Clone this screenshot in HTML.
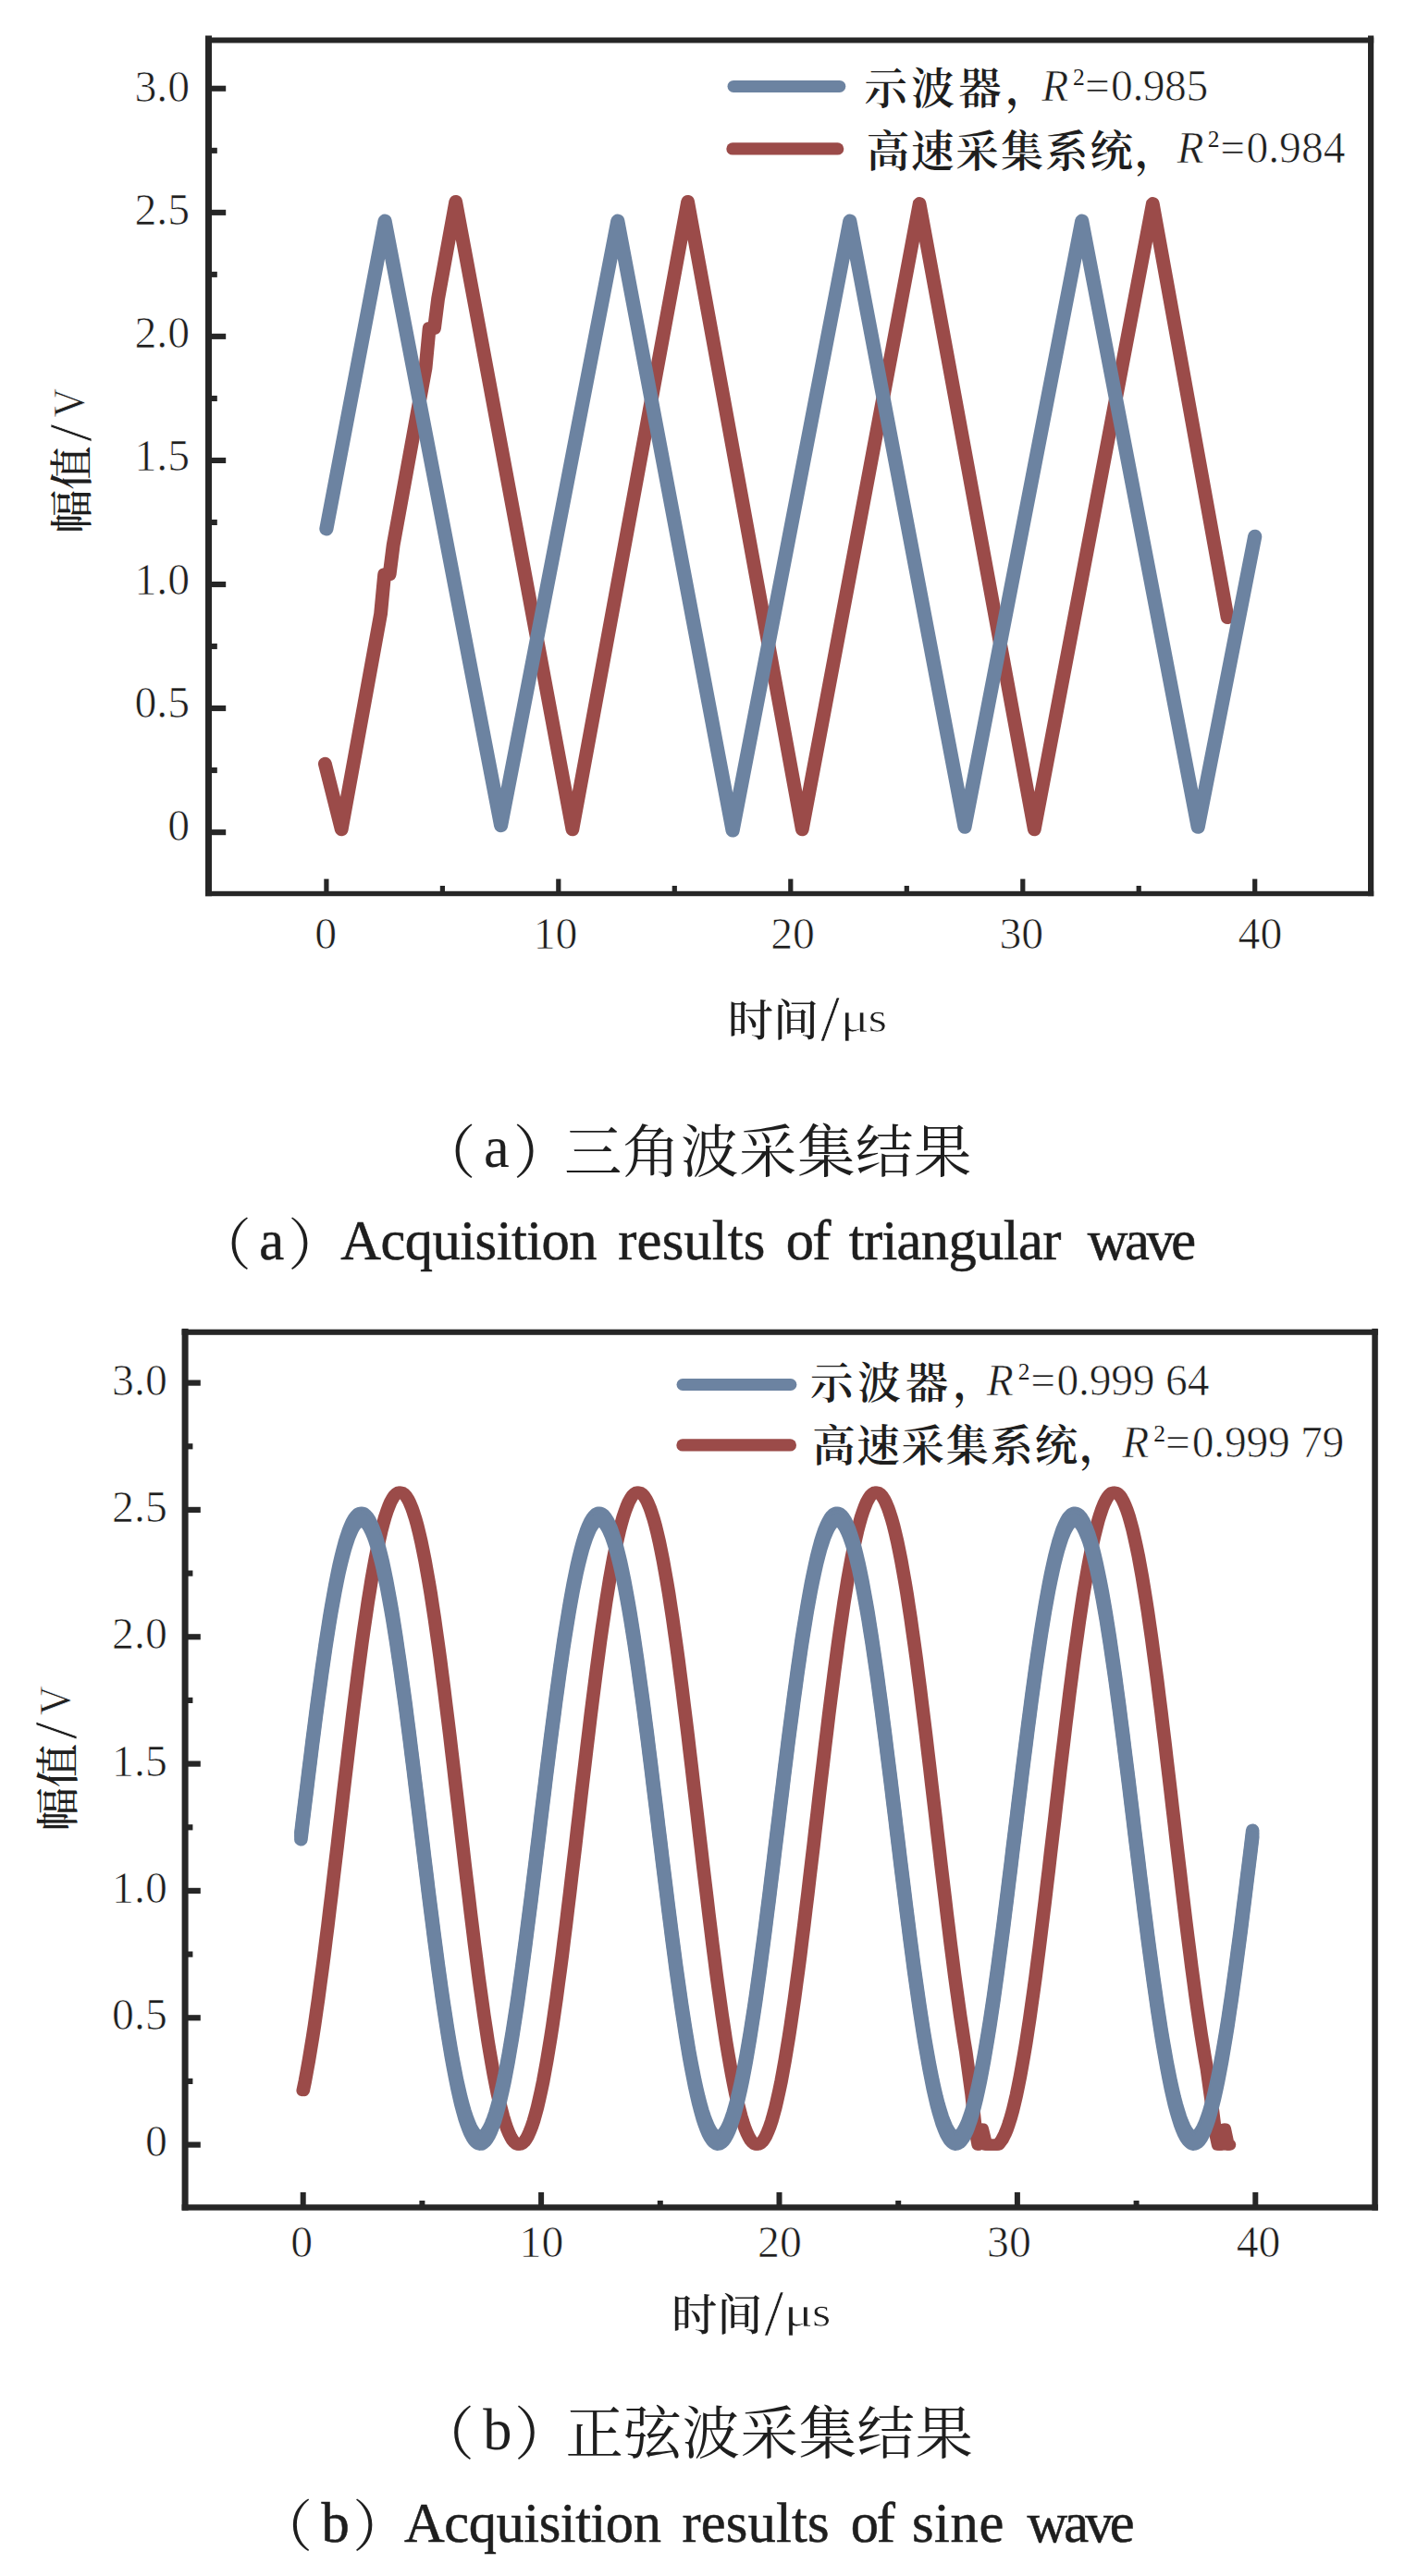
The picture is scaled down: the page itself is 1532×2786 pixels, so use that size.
<!DOCTYPE html>
<html lang="zh-CN">
<head>
<meta charset="utf-8">
<title>三角波与正弦波采集结果</title>
<style>
html,body{margin:0;padding:0;background:#fff;}
body{position:relative;width:1532px;height:2786px;overflow:hidden;}
figure{position:absolute;left:0;margin:0;padding:0;width:1532px;}
figure svg{display:block;}
svg text{font-family:"Liberation Serif","Noto Serif CJK SC",serif;fill:#1e1e1e;white-space:pre;}
svg .cjk{font-family:"Noto Serif CJK SC","Liberation Serif",serif;}
svg .thin text,svg .thin1{stroke:#fff;stroke-width:0.7px;}
svg .thin2{stroke:#fff;stroke-width:1.3px;}
svg .bold{stroke:#1e1e1e;stroke-width:0.55px;}
</style>
</head>
<body>
<figure style="top:0;height:1410px;">
<svg width="1532" height="1410" viewBox="0 0 1532 1410">
<g fill="#262626">
<rect x="222" y="38.5" width="7" height="930.7"/>
<rect x="1479" y="38.5" width="6.2" height="930.7"/>
<rect x="222" y="40.5" width="1263.2" height="6"/>
<rect x="222" y="963.8" width="1263.2" height="5.4"/>
<rect x="228" y="897.1" width="16.2" height="6.1"/>
<rect x="228" y="830" width="6.8" height="6.1"/>
<rect x="228" y="763" width="16.2" height="6.1"/>
<rect x="228" y="696" width="6.8" height="6.1"/>
<rect x="228" y="629" width="16.2" height="6.1"/>
<rect x="228" y="561.9" width="6.8" height="6.1"/>
<rect x="228" y="494.9" width="16.2" height="6.1"/>
<rect x="228" y="427.9" width="6.8" height="6.1"/>
<rect x="228" y="360.8" width="16.2" height="6.1"/>
<rect x="228" y="293.8" width="6.8" height="6.1"/>
<rect x="228" y="226.8" width="16.2" height="6.1"/>
<rect x="228" y="159.8" width="6.8" height="6.1"/>
<rect x="228" y="92.7" width="16.2" height="6.1"/>
<rect x="350.3" y="950.6" width="5.2" height="14.2"/>
<rect x="475.8" y="958" width="5.2" height="6.8"/>
<rect x="601.2" y="950.6" width="5.2" height="14.2"/>
<rect x="726.7" y="958" width="5.2" height="6.8"/>
<rect x="852.2" y="950.6" width="5.2" height="14.2"/>
<rect x="977.7" y="958" width="5.2" height="6.8"/>
<rect x="1103.2" y="950.6" width="5.2" height="14.2"/>
<rect x="1228.6" y="958" width="5.2" height="6.8"/>
<rect x="1354.1" y="950.6" width="5.2" height="14.2"/>
</g>
<g fill="none" stroke-linejoin="round" stroke-linecap="round">
<path d="M351.4 826.1L369.2 896.9L411.6 663.8L415.6 621.6L421.2 620.8L425.2 589.3L460.1 397.6L464.1 355.4L469.6 354.6L473.6 323.1L492.7 218.3L618.9 896.9L743.6 218.3L867.3 896.9L994.1 220.5L1118.3 896.9L1246.3 220.5L1327.1 667.7" stroke="#9b4b49" stroke-width="14.8"/>
<path d="M352.9 571.9L416.1 239.2L541.6 892.6L667.8 239.2L792.1 898L918.8 239.2L1043 894.2L1169.7 239.2L1295.2 894.2L1356.7 580.3" stroke="#6c83a1" stroke-width="15.2"/>
<path d="M793 93.4H907.8" stroke="#6c83a1" stroke-width="13"/>
<path d="M792 160.9H905.6" stroke="#9b4b49" stroke-width="13.4"/>
</g>
<g class="thin" font-size="47.8" text-anchor="end">
<text x="205.2" y="908.7">0</text>
<text x="205.2" y="775.6">0.5</text>
<text x="205.2" y="642.5">1.0</text>
<text x="205.2" y="509.4">1.5</text>
<text x="205.2" y="376.3">2.0</text>
<text x="205.2" y="243.2">2.5</text>
<text x="205.2" y="110.1">3.0</text>
</g>
<g class="thin" font-size="47.8" text-anchor="middle">
<text x="352.1" y="1026.1">0</text>
<text x="600.6" y="1026.1">10</text>
<text x="857.1" y="1026.1">20</text>
<text x="1104.3" y="1026.1">30</text>
<text x="1362.4" y="1026.1">40</text>
</g>
<text><tspan class="cjk" font-size="46.5" font-weight="600" letter-spacing="4.4" x="934.4" y="112.35">示波器，</tspan><tspan class="thin1" font-size="47.6" font-style="italic" x="1126.3" y="108.7">R</tspan><tspan font-size="25.5" x="1160.1" y="91.9">2</tspan><tspan class="thin1" font-size="47.6" x="1172.9" y="108.7">=</tspan><tspan class="thin1" font-size="47.6" letter-spacing="-0.5" x="1201.1" y="108.7">0.985</tspan></text>
<text><tspan class="cjk" font-size="46.5" font-weight="600" letter-spacing="1.84" x="936.7" y="179.65">高速采集系统，</tspan><tspan class="thin1" font-size="47.6" font-style="italic" x="1272.5" y="176.2">R</tspan><tspan font-size="25.5" x="1305.7" y="159.4">2</tspan><tspan class="thin1" font-size="47.6" x="1319.2" y="176.2">=</tspan><tspan class="thin1" font-size="47.6" x="1347.4" y="176.2">0.984</tspan></text>
<text class="cjk" font-size="47" font-weight="500" transform="translate(94.3 577.02) rotate(-90) scale(1.007 1)">幅值</text>
<text class="thin1" font-size="66" transform="translate(97.8 477.4) rotate(-90) scale(1.022 1)">/</text>
<text class="thin1" font-size="49" transform="translate(91.3 451.49) rotate(-90) scale(0.894 1)">V</text>
<text class="cjk" font-size="47" font-weight="500" transform="translate(786.81 1120.2) scale(1.048 1)">时间</text>
<text class="thin1" font-size="70" transform="translate(887.3 1125.2) scale(1.063 1)">/</text>
<text class="thin1" font-size="47" transform="translate(908.79 1116.3) scale(1.226 1)">μ</text>
<text class="thin1" font-size="47" transform="translate(938.69 1116.3) scale(1.107 1)">s</text>
<text><tspan font-size="62.4" x="452.1" y="1268.75">（</tspan><tspan font-size="62.4" x="522.9" y="1262.3">a</tspan><tspan font-size="62.4" x="554.8" y="1268.75">）</tspan><tspan font-size="62.4" letter-spacing="0.63" x="610" y="1267.7">三角波采集结果</tspan></text>
<text><tspan font-size="60.5" x="211.2" y="1367.95">（</tspan><tspan class="bold" font-size="60.5" x="280.3" y="1361.9">a</tspan><tspan font-size="60.5" x="311.2" y="1367.95">）</tspan><tspan class="bold" font-size="60.5" letter-spacing="-0.49" x="368.2" y="1361.9">Acquisition </tspan><tspan class="bold" font-size="60.5" letter-spacing="0.17" x="668.3" y="1361.9">results </tspan><tspan class="bold" font-size="60.5" letter-spacing="-1.8" x="849.7" y="1361.9">of </tspan><tspan class="bold" font-size="60.5" letter-spacing="-0.62" x="917.7" y="1361.9">triangular </tspan><tspan class="bold" font-size="60.5" letter-spacing="-3.43" x="1175.8" y="1361.9">wave</tspan></text>
</svg>
</figure>
<figure style="top:1410px;height:1376px;">
<svg width="1532" height="1376" viewBox="0 1410 1532 1376">
<g fill="#262626">
<rect x="196.6" y="1436.9" width="7" height="953.7"/>
<rect x="1483.3" y="1436.9" width="6.5" height="953.7"/>
<rect x="196.6" y="1437.7" width="1293.2" height="6.1"/>
<rect x="196.6" y="2384.2" width="1293.2" height="6.4"/>
<rect x="202.6" y="2316.5" width="14.2" height="6.2"/>
<rect x="202.6" y="2247.8" width="5.8" height="6.2"/>
<rect x="202.6" y="2179.2" width="14.2" height="6.2"/>
<rect x="202.6" y="2110.5" width="5.8" height="6.2"/>
<rect x="202.6" y="2041.8" width="14.2" height="6.2"/>
<rect x="202.6" y="1973.2" width="5.8" height="6.2"/>
<rect x="202.6" y="1904.5" width="14.2" height="6.2"/>
<rect x="202.6" y="1835.8" width="5.8" height="6.2"/>
<rect x="202.6" y="1767.2" width="14.2" height="6.2"/>
<rect x="202.6" y="1698.5" width="5.8" height="6.2"/>
<rect x="202.6" y="1629.8" width="14.2" height="6.2"/>
<rect x="202.6" y="1561.2" width="5.8" height="6.2"/>
<rect x="202.6" y="1492.5" width="14.2" height="6.2"/>
<rect x="324.7" y="2371" width="6" height="14.2"/>
<rect x="453.4" y="2380" width="6" height="5.2"/>
<rect x="582.1" y="2371" width="6" height="14.2"/>
<rect x="710.8" y="2380" width="6" height="5.2"/>
<rect x="839.5" y="2371" width="6" height="14.2"/>
<rect x="968.2" y="2380" width="6" height="5.2"/>
<rect x="1096.9" y="2371" width="6" height="14.2"/>
<rect x="1225.6" y="2380" width="6" height="5.2"/>
<rect x="1354.3" y="2371" width="6" height="14.2"/>
</g>
<g fill="none" stroke-linejoin="round" stroke-linecap="round">
<path d="M326.6 2261L328.7 2250.9L330.7 2240L332.8 2228.4L334.8 2216.2L336.9 2203.4L339 2189.9L341 2175.9L343.1 2161.4L345.1 2146.3L347.2 2130.8L349.3 2114.9L351.3 2098.6L353.4 2082L355.4 2065.1L357.5 2048L359.5 2030.6L361.6 2013.1L363.7 1995.4L365.7 1977.7L367.8 1960L369.8 1942.3L371.9 1924.6L374 1907.1L376 1889.7L378.1 1872.4L380.1 1855.5L382.2 1838.8L384.3 1822.4L386.3 1806.4L388.4 1790.8L390.4 1775.7L392.5 1761L394.6 1746.8L396.6 1733.2L398.7 1720.2L400.7 1707.8L402.8 1696.1L404.8 1685.1L406.9 1674.7L409 1665.1L411 1656.3L413.1 1648.2L415.1 1641L417.2 1634.6L419.3 1629L421.3 1624.2L423.4 1620.4L425.4 1617.4L427.5 1615.3L429.6 1614L431.6 1613.7L433.7 1614.3L435.7 1615.7L437.8 1618L439.9 1621.3L441.9 1625.3L444 1630.3L446 1636.1L448.1 1642.7L450.2 1650.2L452.2 1658.4L454.3 1667.5L456.3 1677.2L458.4 1687.8L460.4 1699L462.5 1710.9L464.6 1723.4L466.6 1736.6L468.7 1750.3L470.7 1764.6L472.8 1779.4L474.9 1794.7L476.9 1810.4L479 1826.5L481 1842.9L483.1 1859.7L485.2 1876.7L487.2 1894L489.3 1911.4L491.3 1929L493.4 1946.7L495.5 1964.4L497.5 1982.2L499.6 1999.9L501.6 2017.5L503.7 2035L505.8 2052.3L507.8 2069.4L509.9 2086.2L511.9 2102.7L514 2118.9L516 2134.7L518.1 2150.1L520.2 2165L522.2 2179.5L524.3 2193.3L526.3 2206.6L528.4 2219.3L530.5 2231.4L532.5 2242.8L534.6 2253.5L536.6 2263.5L538.7 2272.7L540.8 2281.1L542.8 2288.8L544.9 2295.6L546.9 2301.6L549 2306.8L551.1 2311.1L553.1 2314.5L555.2 2317.1L557.2 2318.8L559.3 2319.5L561.3 2319.4L563.4 2318.4L565.5 2316.5L567.5 2313.8L569.6 2310.1L571.6 2305.6L573.7 2300.2L575.8 2294L577.8 2286.9L579.9 2279.1L581.9 2270.4L584 2261L586.1 2250.9L588.1 2240L590.2 2228.4L592.2 2216.2L594.3 2203.4L596.4 2189.9L598.4 2175.9L600.5 2161.4L602.5 2146.3L604.6 2130.8L606.7 2114.9L608.7 2098.6L610.8 2082L612.8 2065.1L614.9 2048L616.9 2030.6L619 2013.1L621.1 1995.4L623.1 1977.7L625.2 1960L627.2 1942.3L629.3 1924.6L631.4 1907.1L633.4 1889.7L635.5 1872.4L637.5 1855.5L639.6 1838.8L641.7 1822.4L643.7 1806.4L645.8 1790.8L647.8 1775.7L649.9 1761L652 1746.8L654 1733.2L656.1 1720.2L658.1 1707.8L660.2 1696.1L662.2 1685.1L664.3 1674.7L666.4 1665.1L668.4 1656.3L670.5 1648.2L672.5 1641L674.6 1634.6L676.7 1629L678.7 1624.2L680.8 1620.4L682.8 1617.4L684.9 1615.3L687 1614L689 1613.7L691.1 1614.3L693.1 1615.7L695.2 1618L697.3 1621.3L699.3 1625.3L701.4 1630.3L703.4 1636.1L705.5 1642.7L707.6 1650.2L709.6 1658.4L711.7 1667.5L713.7 1677.2L715.8 1687.8L717.8 1699L719.9 1710.9L722 1723.4L724 1736.6L726.1 1750.3L728.1 1764.6L730.2 1779.4L732.3 1794.7L734.3 1810.4L736.4 1826.5L738.4 1842.9L740.5 1859.7L742.6 1876.7L744.6 1894L746.7 1911.4L748.7 1929L750.8 1946.7L752.9 1964.4L754.9 1982.2L757 1999.9L759 2017.5L761.1 2035L763.2 2052.3L765.2 2069.4L767.3 2086.2L769.3 2102.7L771.4 2118.9L773.4 2134.7L775.5 2150.1L777.6 2165L779.6 2179.5L781.7 2193.3L783.7 2206.6L785.8 2219.3L787.9 2231.4L789.9 2242.8L792 2253.5L794 2263.5L796.1 2272.7L798.2 2281.1L800.2 2288.8L802.3 2295.6L804.3 2301.6L806.4 2306.8L808.5 2311.1L810.5 2314.5L812.6 2317.1L814.6 2318.8L816.7 2319.5L818.7 2319.4L820.8 2318.4L822.9 2316.5L824.9 2313.8L827 2310.1L829 2305.6L831.1 2300.2L833.2 2294L835.2 2286.9L837.3 2279.1L839.3 2270.4L841.4 2261L843.5 2250.9L845.5 2240L847.6 2228.4L849.6 2216.2L851.7 2203.4L853.8 2189.9L855.8 2175.9L857.9 2161.4L859.9 2146.3L862 2130.8L864.1 2114.9L866.1 2098.6L868.2 2082L870.2 2065.1L872.3 2048L874.3 2030.6L876.4 2013.1L878.5 1995.4L880.5 1977.7L882.6 1960L884.6 1942.3L886.7 1924.6L888.8 1907.1L890.8 1889.7L892.9 1872.4L894.9 1855.5L897 1838.8L899.1 1822.4L901.1 1806.4L903.2 1790.8L905.2 1775.7L907.3 1761L909.4 1746.8L911.4 1733.2L913.5 1720.2L915.5 1707.8L917.6 1696.1L919.6 1685.1L921.7 1674.7L923.8 1665.1L925.8 1656.3L927.9 1648.2L929.9 1641L932 1634.6L934.1 1629L936.1 1624.2L938.2 1620.4L940.2 1617.4L942.3 1615.3L944.4 1614L946.4 1613.7L948.5 1614.3L950.5 1615.7L952.6 1618L954.7 1621.3L956.7 1625.3L958.8 1630.3L960.8 1636.1L962.9 1642.7L965 1650.2L967 1658.4L969.1 1667.5L971.1 1677.2L973.2 1687.8L975.2 1699L977.3 1710.9L979.4 1723.4L981.4 1736.6L983.5 1750.3L985.5 1764.6L987.6 1779.4L989.7 1794.7L991.7 1810.4L993.8 1826.5L995.8 1842.9L997.9 1859.7L1000 1876.7L1002 1894L1004.1 1911.4L1006.1 1929L1008.2 1946.7L1010.3 1964.4L1012.3 1982.2L1014.4 1999.9L1016.4 2017.5L1018.5 2035L1020.6 2052.3L1022.6 2069.4L1024.7 2086.2L1026.7 2102.7L1028.8 2118.9L1030.8 2134.7L1032.9 2150.1L1035 2165L1037 2179.5L1039.1 2193.3L1041.1 2206.6L1043.2 2219.3L1049.4 2264.7L1053.5 2303.1L1056.6 2319.6L1060.7 2302.6L1064.8 2319.6L1078.2 2319.6L1082.3 2314.1L1085.4 2308L1087.5 2303L1089.5 2297.2L1091.6 2290.6L1093.7 2283.1L1095.7 2274.9L1097.8 2265.8L1099.8 2256.1L1101.9 2245.5L1103.9 2234.3L1106 2222.4L1108.1 2209.9L1110.1 2196.7L1112.2 2183L1114.2 2168.7L1116.3 2153.9L1118.4 2138.6L1120.4 2122.9L1122.5 2106.8L1124.5 2090.4L1126.6 2073.6L1128.7 2056.6L1130.7 2039.3L1132.8 2021.9L1134.8 2004.3L1136.9 1986.6L1139 1968.9L1141 1951.1L1143.1 1933.4L1145.1 1915.8L1147.2 1898.3L1149.3 1881L1151.3 1863.9L1153.4 1847.1L1155.4 1830.6L1157.5 1814.4L1159.5 1798.6L1161.6 1783.2L1163.7 1768.3L1165.7 1753.8L1167.8 1740L1169.8 1726.7L1171.9 1714L1174 1701.9L1176 1690.5L1178.1 1679.8L1180.1 1669.8L1182.2 1660.6L1184.3 1652.2L1186.3 1644.5L1188.4 1637.7L1190.4 1631.7L1192.5 1626.5L1194.6 1622.2L1196.6 1618.8L1198.7 1616.2L1200.7 1614.5L1202.8 1613.8L1204.8 1613.9L1206.9 1614.9L1209 1616.8L1211 1619.5L1213.1 1623.2L1215.1 1627.7L1217.2 1633.1L1219.3 1639.3L1221.3 1646.4L1223.4 1654.2L1225.4 1662.8L1227.5 1672.3L1229.6 1682.4L1231.6 1693.3L1233.7 1704.9L1235.7 1717.1L1237.8 1729.9L1239.9 1743.4L1241.9 1757.4L1244 1771.9L1246 1787L1248.1 1802.5L1250.2 1818.4L1252.2 1834.7L1254.3 1851.3L1256.3 1868.2L1258.4 1885.3L1260.4 1902.7L1262.5 1920.2L1264.6 1937.9L1266.6 1955.6L1268.7 1973.3L1270.7 1991L1272.8 2008.7L1274.9 2026.2L1276.9 2043.6L1279 2060.9L1281 2077.8L1283.1 2094.5L1285.2 2110.9L1287.2 2126.9L1289.3 2142.5L1291.3 2157.6L1293.4 2172.3L1295.5 2186.5L1297.5 2200.1L1299.6 2213.1L1301.6 2225.5L1303.7 2237.2L1308.3 2270.2L1312.4 2303.1L1316 2319.6L1319.1 2319.6L1322.7 2302.6L1326.3 2319.6L1327.9 2319.6" stroke="#9b4b49" stroke-width="12.4"/>
<path d="M328.8 2261L330.9 2250.9L332.9 2240L335 2228.4L337 2216.2L339.1 2203.4L341.2 2189.9L343.2 2175.9L345.3 2161.4L347.3 2146.3L349.4 2130.8L351.5 2114.9L353.5 2098.6L355.6 2082L357.6 2065.1L359.7 2048L361.7 2030.6L363.8 2013.1L365.9 1995.4L367.9 1977.7L370 1960L372 1942.3L374.1 1924.6L376.2 1907.1L378.2 1889.7L380.3 1872.4L382.3 1855.5L384.4 1838.8L386.5 1822.4L388.5 1806.4L390.6 1790.8L392.6 1775.7L394.7 1761L396.8 1746.8L398.8 1733.2L400.9 1720.2L402.9 1707.8L405 1696.1L407 1685.1L409.1 1674.7L411.2 1665.1L413.2 1656.3L415.3 1648.2L417.3 1641L419.4 1634.6L421.5 1629L423.5 1624.2L425.6 1620.4L427.6 1617.4L429.7 1615.3L431.8 1614L433.8 1613.7L435.9 1614.3L437.9 1615.7L440 1618L442.1 1621.3L444.1 1625.3L446.2 1630.3L448.2 1636.1L450.3 1642.7L452.4 1650.2L454.4 1658.4L456.5 1667.5L458.5 1677.2L460.6 1687.8L462.6 1699L464.7 1710.9L466.8 1723.4L468.8 1736.6L470.9 1750.3L472.9 1764.6L475 1779.4L477.1 1794.7L479.1 1810.4L481.2 1826.5L483.2 1842.9L485.3 1859.7L487.4 1876.7L489.4 1894L491.5 1911.4L493.5 1929L495.6 1946.7L497.7 1964.4L499.7 1982.2L501.8 1999.9L503.8 2017.5L505.9 2035L508 2052.3L510 2069.4L512.1 2086.2L514.1 2102.7L516.2 2118.9L518.2 2134.7L520.3 2150.1L522.4 2165L524.4 2179.5L526.5 2193.3L528.5 2206.6L530.6 2219.3L532.7 2231.4L534.7 2242.8L536.8 2253.5L538.8 2263.5L540.9 2272.7L543 2281.1L545 2288.8L547.1 2295.6L549.1 2301.6L551.2 2306.8L553.3 2311.1L555.3 2314.5L557.4 2317.1L559.4 2318.8L561.5 2319.5L563.5 2319.4L565.6 2318.4L567.7 2316.5L569.7 2313.8L571.8 2310.1L573.8 2305.6L575.9 2300.2L578 2294L580 2286.9L582.1 2279.1L584.1 2270.4L586.2 2261L588.3 2250.9L590.3 2240L592.4 2228.4L594.4 2216.2L596.5 2203.4L598.6 2189.9L600.6 2175.9L602.7 2161.4L604.7 2146.3L606.8 2130.8L608.9 2114.9L610.9 2098.6L613 2082L615 2065.1L617.1 2048L619.1 2030.6L621.2 2013.1L623.3 1995.4L625.3 1977.7L627.4 1960L629.4 1942.3L631.5 1924.6L633.6 1907.1L635.6 1889.7L637.7 1872.4L639.7 1855.5L641.8 1838.8L643.9 1822.4L645.9 1806.4L648 1790.8L650 1775.7L652.1 1761L654.2 1746.8L656.2 1733.2L658.3 1720.2L660.3 1707.8L662.4 1696.1L664.4 1685.1L666.5 1674.7L668.6 1665.1L670.6 1656.3L672.7 1648.2L674.7 1641L676.8 1634.6L678.9 1629L680.9 1624.2L683 1620.4L685 1617.4L687.1 1615.3L689.2 1614L691.2 1613.7L693.3 1614.3L695.3 1615.7L697.4 1618L699.5 1621.3L701.5 1625.3L703.6 1630.3L705.6 1636.1L707.7 1642.7L709.8 1650.2L711.8 1658.4L713.9 1667.5L715.9 1677.2L718 1687.8L720 1699L722.1 1710.9L724.2 1723.4L726.2 1736.6L728.3 1750.3L730.3 1764.6L732.4 1779.4L734.5 1794.7L736.5 1810.4L738.6 1826.5L740.6 1842.9L742.7 1859.7L744.8 1876.7L746.8 1894L748.9 1911.4L750.9 1929L753 1946.7L755.1 1964.4L757.1 1982.2L759.2 1999.9L761.2 2017.5L763.3 2035L765.4 2052.3L767.4 2069.4L769.5 2086.2L771.5 2102.7L773.6 2118.9L775.6 2134.7L777.7 2150.1L779.8 2165L781.8 2179.5L783.9 2193.3L785.9 2206.6L788 2219.3L790.1 2231.4L792.1 2242.8L794.2 2253.5L796.2 2263.5L798.3 2272.7L800.4 2281.1L802.4 2288.8L804.5 2295.6L806.5 2301.6L808.6 2306.8L810.7 2311.1L812.7 2314.5L814.8 2317.1L816.8 2318.8L818.9 2319.5L820.9 2319.4L823 2318.4L825.1 2316.5L827.1 2313.8L829.2 2310.1L831.2 2305.6L833.3 2300.2L835.4 2294L837.4 2286.9L839.5 2279.1L841.5 2270.4L843.6 2261L845.7 2250.9L847.7 2240L849.8 2228.4L851.8 2216.2L853.9 2203.4L856 2189.9L858 2175.9L860.1 2161.4L862.1 2146.3L864.2 2130.8L866.3 2114.9L868.3 2098.6L870.4 2082L872.4 2065.1L874.5 2048L876.5 2030.6L878.6 2013.1L880.7 1995.4L882.7 1977.7L884.8 1960L886.8 1942.3L888.9 1924.6L891 1907.1L893 1889.7L895.1 1872.4L897.1 1855.5L899.2 1838.8L901.3 1822.4L903.3 1806.4L905.4 1790.8L907.4 1775.7L909.5 1761L911.6 1746.8L913.6 1733.2L915.7 1720.2L917.7 1707.8L919.8 1696.1L921.8 1685.1L923.9 1674.7L926 1665.1L928 1656.3L930.1 1648.2L932.1 1641L934.2 1634.6L936.3 1629L938.3 1624.2L940.4 1620.4L942.4 1617.4L944.5 1615.3L946.6 1614L948.6 1613.7L950.7 1614.3L952.7 1615.7L954.8 1618L956.9 1621.3L958.9 1625.3L961 1630.3L963 1636.1L965.1 1642.7L967.2 1650.2L969.2 1658.4L971.3 1667.5L973.3 1677.2L975.4 1687.8L977.4 1699L979.5 1710.9L981.6 1723.4L983.6 1736.6L985.7 1750.3L987.7 1764.6L989.8 1779.4L991.9 1794.7L993.9 1810.4L996 1826.5L998 1842.9L1000.1 1859.7L1002.2 1876.7L1004.2 1894L1006.3 1911.4L1008.3 1929L1010.4 1946.7L1012.5 1964.4L1014.5 1982.2L1016.6 1999.9L1018.6 2017.5L1020.7 2035L1022.8 2052.3L1024.8 2069.4L1026.9 2086.2L1028.9 2102.7L1031 2118.9L1033 2134.7L1035.1 2150.1L1037.2 2165L1039.2 2179.5L1041.3 2193.3L1043.3 2206.6L1045.4 2219.3L1051.6 2264.7L1055.7 2303.1L1058.8 2319.6L1062.9 2302.6L1067 2319.6L1080.4 2319.6L1084.5 2314.1L1087.6 2308L1089.7 2303L1091.7 2297.2L1093.8 2290.6L1095.9 2283.1L1097.9 2274.9L1100 2265.8L1102 2256.1L1104.1 2245.5L1106.1 2234.3L1108.2 2222.4L1110.3 2209.9L1112.3 2196.7L1114.4 2183L1116.4 2168.7L1118.5 2153.9L1120.6 2138.6L1122.6 2122.9L1124.7 2106.8L1126.7 2090.4L1128.8 2073.6L1130.9 2056.6L1132.9 2039.3L1135 2021.9L1137 2004.3L1139.1 1986.6L1141.2 1968.9L1143.2 1951.1L1145.3 1933.4L1147.3 1915.8L1149.4 1898.3L1151.5 1881L1153.5 1863.9L1155.6 1847.1L1157.6 1830.6L1159.7 1814.4L1161.7 1798.6L1163.8 1783.2L1165.9 1768.3L1167.9 1753.8L1170 1740L1172 1726.7L1174.1 1714L1176.2 1701.9L1178.2 1690.5L1180.3 1679.8L1182.3 1669.8L1184.4 1660.6L1186.5 1652.2L1188.5 1644.5L1190.6 1637.7L1192.6 1631.7L1194.7 1626.5L1196.8 1622.2L1198.8 1618.8L1200.9 1616.2L1202.9 1614.5L1205 1613.8L1207 1613.9L1209.1 1614.9L1211.2 1616.8L1213.2 1619.5L1215.3 1623.2L1217.3 1627.7L1219.4 1633.1L1221.5 1639.3L1223.5 1646.4L1225.6 1654.2L1227.6 1662.8L1229.7 1672.3L1231.8 1682.4L1233.8 1693.3L1235.9 1704.9L1237.9 1717.1L1240 1729.9L1242.1 1743.4L1244.1 1757.4L1246.2 1771.9L1248.2 1787L1250.3 1802.5L1252.4 1818.4L1254.4 1834.7L1256.5 1851.3L1258.5 1868.2L1260.6 1885.3L1262.6 1902.7L1264.7 1920.2L1266.8 1937.9L1268.8 1955.6L1270.9 1973.3L1272.9 1991L1275 2008.7L1277.1 2026.2L1279.1 2043.6L1281.2 2060.9L1283.2 2077.8L1285.3 2094.5L1287.4 2110.9L1289.4 2126.9L1291.5 2142.5L1293.5 2157.6L1295.6 2172.3L1297.7 2186.5L1299.7 2200.1L1301.8 2213.1L1303.8 2225.5L1305.9 2237.2L1310.5 2270.2L1314.6 2303.1L1318.2 2319.6L1321.3 2319.6L1324.9 2302.6L1328.5 2319.6L1330.1 2319.6" stroke="#9b4b49" stroke-width="12.4"/>
<path d="M325.4 1981.9L327.4 1964.9L329.5 1948L331.6 1931.1L333.6 1914.4L335.7 1897.8L337.7 1881.3L339.8 1865.2L341.8 1849.3L343.9 1833.7L346 1818.4L348 1803.6L350.1 1789.2L352.1 1775.2L354.2 1761.8L356.2 1748.9L358.3 1736.5L360.4 1724.8L362.4 1713.7L364.5 1703.2L366.5 1693.4L368.6 1684.4L370.7 1676.1L372.7 1668.5L374.8 1661.7L376.8 1655.7L378.9 1650.5L380.9 1646.1L383 1642.5L385.1 1639.8L387.1 1637.9L389.2 1636.9L391.2 1636.7L393.3 1637.3L395.3 1638.9L397.4 1641.2L399.5 1644.5L401.5 1648.5L403.6 1653.4L405.6 1659L407.7 1665.5L409.7 1672.8L411.8 1680.8L413.9 1689.5L415.9 1699L418 1709.2L420 1720L422.1 1731.5L424.2 1743.6L426.2 1756.2L428.3 1769.5L430.3 1783.2L432.4 1797.4L434.4 1812.1L436.5 1827.2L438.6 1842.6L440.6 1858.4L442.7 1874.5L444.7 1890.8L446.8 1907.3L448.8 1924L450.9 1940.9L453 1957.8L455 1974.7L457.1 1991.7L459.1 2008.6L461.2 2025.4L463.2 2042.1L465.3 2058.6L467.4 2074.9L469.4 2091L471.5 2106.7L473.5 2122.1L475.6 2137.2L477.6 2151.8L479.7 2166L481.8 2179.7L483.8 2192.8L485.9 2205.5L487.9 2217.5L490 2228.9L492.1 2239.7L494.1 2249.8L496.2 2259.2L498.2 2267.9L500.3 2275.8L502.3 2283L504.4 2289.4L506.5 2295L508.5 2299.8L510.6 2303.8L512.6 2306.9L514.7 2309.2L516.7 2310.6L518.8 2311.2L520.9 2311L522.9 2309.8L525 2307.9L527 2305.1L529.1 2301.4L531.1 2297L533.2 2291.7L535.3 2285.6L537.3 2278.7L539.4 2271.1L541.4 2262.7L543.5 2253.5L545.6 2243.7L547.6 2233.2L549.7 2222L551.7 2210.2L553.8 2197.8L555.8 2184.9L557.9 2171.4L560 2157.4L562 2142.9L564.1 2128L566.1 2112.8L568.2 2097.2L570.2 2081.2L572.3 2065L574.4 2048.6L576.4 2031.9L578.5 2015.2L580.5 1998.3L582.6 1981.4L584.6 1964.4L586.7 1947.5L588.8 1930.6L590.8 1913.8L592.9 1897.2L594.9 1880.8L597 1864.7L599.1 1848.8L601.1 1833.2L603.2 1818L605.2 1803.1L607.3 1788.7L609.3 1774.8L611.4 1761.4L613.5 1748.5L615.5 1736.1L617.6 1724.4L619.6 1713.3L621.7 1702.9L623.7 1693.1L625.8 1684.1L627.9 1675.8L629.9 1668.3L632 1661.5L634 1655.5L636.1 1650.3L638.1 1645.9L640.2 1642.4L642.3 1639.7L644.3 1637.8L646.4 1636.8L648.4 1636.7L650.5 1637.4L652.6 1638.9L654.6 1641.3L656.7 1644.6L658.7 1648.6L660.8 1653.5L662.8 1659.2L664.9 1665.7L667 1673L669 1681L671.1 1689.8L673.1 1699.3L675.2 1709.5L677.2 1720.4L679.3 1731.8L681.4 1744L683.4 1756.6L685.5 1769.9L687.5 1783.6L689.6 1797.9L691.6 1812.6L693.7 1827.7L695.8 1843.1L697.8 1858.9L699.9 1875L701.9 1891.3L704 1907.9L706 1924.6L708.1 1941.4L710.2 1958.3L712.2 1975.3L714.3 1992.2L716.3 2009.1L718.4 2025.9L720.5 2042.6L722.5 2059.1L724.6 2075.4L726.6 2091.4L728.7 2107.2L730.7 2122.6L732.8 2137.6L734.9 2152.2L736.9 2166.4L739 2180.1L741 2193.2L743.1 2205.8L745.1 2217.9L747.2 2229.3L749.3 2240L751.3 2250.1L753.4 2259.5L755.4 2268.1L757.5 2276.1L759.5 2283.2L761.6 2289.6L763.7 2295.2L765.7 2299.9L767.8 2303.9L769.8 2307L771.9 2309.2L774 2310.7L776 2311.2L778.1 2310.9L780.1 2309.8L782.2 2307.8L784.2 2305L786.3 2301.3L788.4 2296.8L790.4 2291.5L792.5 2285.4L794.5 2278.5L796.6 2270.8L798.6 2262.4L800.7 2253.3L802.8 2243.4L804.8 2232.9L806.9 2221.7L808.9 2209.9L811 2197.4L813 2184.5L815.1 2171L817.2 2156.9L819.2 2142.5L821.3 2127.6L823.3 2112.3L825.4 2096.7L827.5 2080.7L829.5 2064.5L831.6 2048.1L833.6 2031.4L835.7 2014.6L837.7 1997.8L839.8 1980.8L841.9 1963.9L843.9 1946.9L846 1930.1L848 1913.3L850.1 1896.7L852.1 1880.3L854.2 1864.2L856.3 1848.3L858.3 1832.7L860.4 1817.5L862.4 1802.7L864.5 1788.3L866.5 1774.4L868.6 1760.9L870.7 1748.1L872.7 1735.8L874.8 1724.1L876.8 1713L878.9 1702.6L881 1692.9L883 1683.8L885.1 1675.6L887.1 1668L889.2 1661.3L891.2 1655.3L893.3 1650.2L895.4 1645.8L897.4 1642.3L899.5 1639.6L901.5 1637.8L903.6 1636.8L905.6 1636.7L907.7 1637.4L909.8 1639L911.8 1641.4L913.9 1644.7L915.9 1648.8L918 1653.7L920 1659.4L922.1 1665.9L924.2 1673.2L926.2 1681.3L928.3 1690.1L930.3 1699.6L932.4 1709.8L934.4 1720.7L936.5 1732.2L938.6 1744.3L940.6 1757.1L942.7 1770.3L944.7 1784.1L946.8 1798.3L948.9 1813L950.9 1828.1L953 1843.6L955 1859.4L957.1 1875.5L959.1 1891.8L961.2 1908.4L963.3 1925.1L965.3 1941.9L967.4 1958.8L969.4 1975.8L971.5 1992.7L973.5 2009.6L975.6 2026.4L977.7 2043.1L979.7 2059.6L981.8 2075.9L983.8 2091.9L985.9 2107.7L987.9 2123.1L990 2138.1L992.1 2152.7L994.1 2166.8L996.2 2180.5L998.2 2193.6L1000.3 2206.2L1002.4 2218.2L1004.4 2229.6L1006.5 2240.3L1008.5 2250.4L1010.6 2259.8L1012.6 2268.4L1014.7 2276.3L1016.8 2283.4L1018.8 2289.8L1020.9 2295.3L1022.9 2300.1L1025 2304L1027 2307.1L1029.1 2309.3L1031.2 2310.7L1033.2 2311.2L1035.3 2310.9L1037.3 2309.7L1039.4 2307.7L1041.4 2304.9L1043.5 2301.2L1045.6 2296.7L1047.6 2291.3L1049.7 2285.2L1051.7 2278.3L1053.8 2270.6L1055.9 2262.1L1057.9 2253L1060 2243.1L1062 2232.5L1064.1 2221.3L1066.1 2209.5L1068.2 2197L1070.3 2184L1072.3 2170.5L1074.4 2156.5L1076.4 2142L1078.5 2127.1L1080.5 2111.8L1082.6 2096.2L1084.7 2080.2L1086.7 2064L1088.8 2047.5L1090.8 2030.9L1092.9 2014.1L1094.9 1997.2L1097 1980.3L1099.1 1963.3L1101.1 1946.4L1103.2 1929.6L1105.2 1912.8L1107.3 1896.2L1109.4 1879.8L1111.4 1863.7L1113.5 1847.8L1115.5 1832.2L1117.6 1817L1119.6 1802.2L1121.7 1787.8L1123.8 1773.9L1125.8 1760.5L1127.9 1747.7L1129.9 1735.4L1132 1723.7L1134 1712.7L1136.1 1702.3L1138.2 1692.6L1140.2 1683.6L1142.3 1675.3L1144.3 1667.8L1146.4 1661.1L1148.4 1655.1L1150.5 1650L1152.6 1645.7L1154.6 1642.2L1156.7 1639.6L1158.7 1637.8L1160.8 1636.8L1162.8 1636.7L1164.9 1637.5L1167 1639.1L1169 1641.5L1171.1 1644.8L1173.1 1648.9L1175.2 1653.9L1177.3 1659.6L1179.3 1666.2L1181.4 1673.5L1183.4 1681.6L1185.5 1690.4L1187.5 1699.9L1189.6 1710.2L1191.7 1721.1L1193.7 1732.6L1195.8 1744.7L1197.8 1757.5L1199.9 1770.7L1201.9 1784.5L1204 1798.8L1206.1 1813.5L1208.1 1828.6L1210.2 1844.1L1212.2 1859.9L1214.3 1876L1216.3 1892.3L1218.4 1908.9L1220.5 1925.6L1222.5 1942.4L1224.6 1959.4L1226.6 1976.3L1228.7 1993.3L1230.8 2010.2L1232.8 2027L1234.9 2043.6L1236.9 2060.1L1239 2076.4L1241 2092.4L1243.1 2108.2L1245.2 2123.5L1247.2 2138.5L1249.3 2153.1L1251.3 2167.3L1253.4 2180.9L1255.4 2194L1257.5 2206.6L1259.6 2218.6L1261.6 2229.9L1263.7 2240.7L1265.7 2250.7L1267.8 2260L1269.8 2268.7L1271.9 2276.5L1274 2283.6L1276 2290L1278.1 2295.5L1280.1 2300.2L1282.2 2304.1L1284.3 2307.1L1286.3 2309.3L1288.4 2310.7L1290.4 2311.2L1292.5 2310.9L1294.5 2309.7L1296.6 2307.7L1298.7 2304.8L1300.7 2301.1L1302.8 2296.5L1304.8 2291.1L1306.9 2285L1308.9 2278L1311 2270.3L1313.1 2261.9L1315.1 2252.7L1317.2 2242.8L1319.2 2232.2L1321.3 2220.9L1323.3 2209.1L1325.4 2196.6L1327.5 2183.6L1329.5 2170.1L1331.6 2156.1L1333.6 2141.6L1335.7 2126.6L1337.7 2111.3L1339.8 2095.7L1341.9 2079.7L1343.9 2063.5L1346 2047L1348 2030.4L1350.1 2013.6L1352.2 1996.7L1354.2 1979.8" stroke="#6c83a1" stroke-width="14.6"/>
<path d="M325.4 1985.6L327.4 1968.6L329.5 1951.7L331.6 1934.8L333.6 1918.1L335.7 1901.5L337.7 1885L339.8 1868.9L341.8 1853L343.9 1837.4L346 1822.1L348 1807.3L350.1 1792.9L352.1 1778.9L354.2 1765.5L356.2 1752.6L358.3 1740.2L360.4 1728.5L362.4 1717.4L364.5 1706.9L366.5 1697.1L368.6 1688.1L370.7 1679.8L372.7 1672.2L374.8 1665.4L376.8 1659.4L378.9 1654.2L380.9 1649.8L383 1646.2L385.1 1643.5L387.1 1641.6L389.2 1640.6L391.2 1640.4L393.3 1641L395.3 1642.6L397.4 1644.9L399.5 1648.2L401.5 1652.2L403.6 1657.1L405.6 1662.7L407.7 1669.2L409.7 1676.5L411.8 1684.5L413.9 1693.2L415.9 1702.7L418 1712.9L420 1723.7L422.1 1735.2L424.2 1747.3L426.2 1759.9L428.3 1773.2L430.3 1786.9L432.4 1801.1L434.4 1815.8L436.5 1830.9L438.6 1846.3L440.6 1862.1L442.7 1878.2L444.7 1894.5L446.8 1911L448.8 1927.7L450.9 1944.6L453 1961.5L455 1978.4L457.1 1995.4L459.1 2012.3L461.2 2029.1L463.2 2045.8L465.3 2062.3L467.4 2078.6L469.4 2094.7L471.5 2110.4L473.5 2125.8L475.6 2140.9L477.6 2155.5L479.7 2169.7L481.8 2183.4L483.8 2196.5L485.9 2209.2L487.9 2221.2L490 2232.6L492.1 2243.4L494.1 2253.5L496.2 2262.9L498.2 2271.6L500.3 2279.5L502.3 2286.7L504.4 2293.1L506.5 2298.7L508.5 2303.5L510.6 2307.5L512.6 2310.6L514.7 2312.9L516.7 2314.3L518.8 2314.9L520.9 2314.7L522.9 2313.5L525 2311.6L527 2308.8L529.1 2305.1L531.1 2300.7L533.2 2295.4L535.3 2289.3L537.3 2282.4L539.4 2274.8L541.4 2266.4L543.5 2257.2L545.6 2247.4L547.6 2236.9L549.7 2225.7L551.7 2213.9L553.8 2201.5L555.8 2188.6L557.9 2175.1L560 2161.1L562 2146.6L564.1 2131.7L566.1 2116.5L568.2 2100.9L570.2 2084.9L572.3 2068.7L574.4 2052.3L576.4 2035.6L578.5 2018.9L580.5 2002L582.6 1985.1L584.6 1968.1L586.7 1951.2L588.8 1934.3L590.8 1917.5L592.9 1900.9L594.9 1884.5L597 1868.4L599.1 1852.5L601.1 1836.9L603.2 1821.7L605.2 1806.8L607.3 1792.4L609.3 1778.5L611.4 1765.1L613.5 1752.2L615.5 1739.8L617.6 1728.1L619.6 1717L621.7 1706.6L623.7 1696.8L625.8 1687.8L627.9 1679.5L629.9 1672L632 1665.2L634 1659.2L636.1 1654L638.1 1649.6L640.2 1646.1L642.3 1643.4L644.3 1641.5L646.4 1640.5L648.4 1640.4L650.5 1641.1L652.6 1642.6L654.6 1645L656.7 1648.3L658.7 1652.3L660.8 1657.2L662.8 1662.9L664.9 1669.4L667 1676.7L669 1684.7L671.1 1693.5L673.1 1703L675.2 1713.2L677.2 1724.1L679.3 1735.5L681.4 1747.7L683.4 1760.3L685.5 1773.6L687.5 1787.3L689.6 1801.6L691.6 1816.3L693.7 1831.4L695.8 1846.8L697.8 1862.6L699.9 1878.7L701.9 1895L704 1911.6L706 1928.3L708.1 1945.1L710.2 1962L712.2 1979L714.3 1995.9L716.3 2012.8L718.4 2029.6L720.5 2046.3L722.5 2062.8L724.6 2079.1L726.6 2095.1L728.7 2110.9L730.7 2126.3L732.8 2141.3L734.9 2155.9L736.9 2170.1L739 2183.8L741 2196.9L743.1 2209.5L745.1 2221.6L747.2 2233L749.3 2243.7L751.3 2253.8L753.4 2263.2L755.4 2271.8L757.5 2279.8L759.5 2286.9L761.6 2293.3L763.7 2298.9L765.7 2303.6L767.8 2307.6L769.8 2310.7L771.9 2312.9L774 2314.4L776 2314.9L778.1 2314.6L780.1 2313.5L782.2 2311.5L784.2 2308.7L786.3 2305L788.4 2300.5L790.4 2295.2L792.5 2289.1L794.5 2282.2L796.6 2274.5L798.6 2266.1L800.7 2257L802.8 2247.1L804.8 2236.6L806.9 2225.4L808.9 2213.6L811 2201.1L813 2188.2L815.1 2174.7L817.2 2160.6L819.2 2146.2L821.3 2131.3L823.3 2116L825.4 2100.4L827.5 2084.4L829.5 2068.2L831.6 2051.8L833.6 2035.1L835.7 2018.3L837.7 2001.5L839.8 1984.5L841.9 1967.6L843.9 1950.6L846 1933.8L848 1917L850.1 1900.4L852.1 1884L854.2 1867.9L856.3 1852L858.3 1836.4L860.4 1821.2L862.4 1806.4L864.5 1792L866.5 1778.1L868.6 1764.6L870.7 1751.8L872.7 1739.5L874.8 1727.8L876.8 1716.7L878.9 1706.3L881 1696.6L883 1687.5L885.1 1679.3L887.1 1671.7L889.2 1665L891.2 1659L893.3 1653.9L895.4 1649.5L897.4 1646L899.5 1643.3L901.5 1641.5L903.6 1640.5L905.6 1640.4L907.7 1641.1L909.8 1642.7L911.8 1645.1L913.9 1648.4L915.9 1652.5L918 1657.4L920 1663.1L922.1 1669.6L924.2 1676.9L926.2 1685L928.3 1693.8L930.3 1703.3L932.4 1713.5L934.4 1724.4L936.5 1735.9L938.6 1748L940.6 1760.8L942.7 1774L944.7 1787.8L946.8 1802L948.9 1816.7L950.9 1831.8L953 1847.3L955 1863.1L957.1 1879.2L959.1 1895.5L961.2 1912.1L963.3 1928.8L965.3 1945.6L967.4 1962.5L969.4 1979.5L971.5 1996.4L973.5 2013.3L975.6 2030.1L977.7 2046.8L979.7 2063.3L981.8 2079.6L983.8 2095.6L985.9 2111.4L987.9 2126.8L990 2141.8L992.1 2156.4L994.1 2170.5L996.2 2184.2L998.2 2197.3L1000.3 2209.9L1002.4 2221.9L1004.4 2233.3L1006.5 2244L1008.5 2254.1L1010.6 2263.5L1012.6 2272.1L1014.7 2280L1016.8 2287.1L1018.8 2293.5L1020.9 2299L1022.9 2303.8L1025 2307.7L1027 2310.8L1029.1 2313L1031.2 2314.4L1033.2 2314.9L1035.3 2314.6L1037.3 2313.4L1039.4 2311.4L1041.4 2308.6L1043.5 2304.9L1045.6 2300.4L1047.6 2295L1049.7 2288.9L1051.7 2282L1053.8 2274.3L1055.9 2265.8L1057.9 2256.7L1060 2246.8L1062 2236.2L1064.1 2225L1066.1 2213.2L1068.2 2200.7L1070.3 2187.7L1072.3 2174.2L1074.4 2160.2L1076.4 2145.7L1078.5 2130.8L1080.5 2115.5L1082.6 2099.9L1084.7 2083.9L1086.7 2067.7L1088.8 2051.2L1090.8 2034.6L1092.9 2017.8L1094.9 2000.9L1097 1984L1099.1 1967L1101.1 1950.1L1103.2 1933.3L1105.2 1916.5L1107.3 1899.9L1109.4 1883.5L1111.4 1867.4L1113.5 1851.5L1115.5 1835.9L1117.6 1820.7L1119.6 1805.9L1121.7 1791.5L1123.8 1777.6L1125.8 1764.2L1127.9 1751.4L1129.9 1739.1L1132 1727.4L1134 1716.4L1136.1 1706L1138.2 1696.3L1140.2 1687.3L1142.3 1679L1144.3 1671.5L1146.4 1664.8L1148.4 1658.8L1150.5 1653.7L1152.6 1649.4L1154.6 1645.9L1156.7 1643.3L1158.7 1641.5L1160.8 1640.5L1162.8 1640.4L1164.9 1641.2L1167 1642.8L1169 1645.2L1171.1 1648.5L1173.1 1652.6L1175.2 1657.6L1177.3 1663.3L1179.3 1669.9L1181.4 1677.2L1183.4 1685.3L1185.5 1694.1L1187.5 1703.6L1189.6 1713.9L1191.7 1724.8L1193.7 1736.3L1195.8 1748.4L1197.8 1761.2L1199.9 1774.4L1201.9 1788.2L1204 1802.5L1206.1 1817.2L1208.1 1832.3L1210.2 1847.8L1212.2 1863.6L1214.3 1879.7L1216.3 1896L1218.4 1912.6L1220.5 1929.3L1222.5 1946.1L1224.6 1963.1L1226.6 1980L1228.7 1997L1230.8 2013.9L1232.8 2030.7L1234.9 2047.3L1236.9 2063.8L1239 2080.1L1241 2096.1L1243.1 2111.9L1245.2 2127.2L1247.2 2142.2L1249.3 2156.8L1251.3 2171L1253.4 2184.6L1255.4 2197.7L1257.5 2210.3L1259.6 2222.3L1261.6 2233.6L1263.7 2244.4L1265.7 2254.4L1267.8 2263.7L1269.8 2272.4L1271.9 2280.2L1274 2287.3L1276 2293.7L1278.1 2299.2L1280.1 2303.9L1282.2 2307.8L1284.3 2310.8L1286.3 2313L1288.4 2314.4L1290.4 2314.9L1292.5 2314.6L1294.5 2313.4L1296.6 2311.4L1298.7 2308.5L1300.7 2304.8L1302.8 2300.2L1304.8 2294.8L1306.9 2288.7L1308.9 2281.7L1311 2274L1313.1 2265.6L1315.1 2256.4L1317.2 2246.5L1319.2 2235.9L1321.3 2224.6L1323.3 2212.8L1325.4 2200.3L1327.5 2187.3L1329.5 2173.8L1331.6 2159.8L1333.6 2145.3L1335.7 2130.3L1337.7 2115L1339.8 2099.4L1341.9 2083.4L1343.9 2067.2L1346 2050.7L1348 2034.1L1350.1 2017.3L1352.2 2000.4L1354.2 1983.5" stroke="#6c83a1" stroke-width="14.6"/>
<path d="M325.4 1989.3L327.4 1972.3L329.5 1955.4L331.6 1938.5L333.6 1921.8L335.7 1905.2L337.7 1888.7L339.8 1872.6L341.8 1856.7L343.9 1841.1L346 1825.8L348 1811L350.1 1796.6L352.1 1782.6L354.2 1769.2L356.2 1756.3L358.3 1743.9L360.4 1732.2L362.4 1721.1L364.5 1710.6L366.5 1700.8L368.6 1691.8L370.7 1683.5L372.7 1675.9L374.8 1669.1L376.8 1663.1L378.9 1657.9L380.9 1653.5L383 1649.9L385.1 1647.2L387.1 1645.3L389.2 1644.3L391.2 1644.1L393.3 1644.7L395.3 1646.3L397.4 1648.6L399.5 1651.9L401.5 1655.9L403.6 1660.8L405.6 1666.4L407.7 1672.9L409.7 1680.2L411.8 1688.2L413.9 1696.9L415.9 1706.4L418 1716.6L420 1727.4L422.1 1738.9L424.2 1751L426.2 1763.6L428.3 1776.9L430.3 1790.6L432.4 1804.8L434.4 1819.5L436.5 1834.6L438.6 1850L440.6 1865.8L442.7 1881.9L444.7 1898.2L446.8 1914.7L448.8 1931.4L450.9 1948.3L453 1965.2L455 1982.1L457.1 1999.1L459.1 2016L461.2 2032.8L463.2 2049.5L465.3 2066L467.4 2082.3L469.4 2098.4L471.5 2114.1L473.5 2129.5L475.6 2144.6L477.6 2159.2L479.7 2173.4L481.8 2187.1L483.8 2200.2L485.9 2212.9L487.9 2224.9L490 2236.3L492.1 2247.1L494.1 2257.2L496.2 2266.6L498.2 2275.3L500.3 2283.2L502.3 2290.4L504.4 2296.8L506.5 2302.4L508.5 2307.2L510.6 2311.2L512.6 2314.3L514.7 2316.6L516.7 2318L518.8 2318.6L520.9 2318.4L522.9 2317.2L525 2315.3L527 2312.5L529.1 2308.8L531.1 2304.4L533.2 2299.1L535.3 2293L537.3 2286.1L539.4 2278.5L541.4 2270.1L543.5 2260.9L545.6 2251.1L547.6 2240.6L549.7 2229.4L551.7 2217.6L553.8 2205.2L555.8 2192.3L557.9 2178.8L560 2164.8L562 2150.3L564.1 2135.4L566.1 2120.2L568.2 2104.6L570.2 2088.6L572.3 2072.4L574.4 2056L576.4 2039.3L578.5 2022.6L580.5 2005.7L582.6 1988.8L584.6 1971.8L586.7 1954.9L588.8 1938L590.8 1921.2L592.9 1904.6L594.9 1888.2L597 1872.1L599.1 1856.2L601.1 1840.6L603.2 1825.4L605.2 1810.5L607.3 1796.1L609.3 1782.2L611.4 1768.8L613.5 1755.9L615.5 1743.5L617.6 1731.8L619.6 1720.7L621.7 1710.3L623.7 1700.5L625.8 1691.5L627.9 1683.2L629.9 1675.7L632 1668.9L634 1662.9L636.1 1657.7L638.1 1653.3L640.2 1649.8L642.3 1647.1L644.3 1645.2L646.4 1644.2L648.4 1644.1L650.5 1644.8L652.6 1646.3L654.6 1648.7L656.7 1652L658.7 1656L660.8 1660.9L662.8 1666.6L664.9 1673.1L667 1680.4L669 1688.4L671.1 1697.2L673.1 1706.7L675.2 1716.9L677.2 1727.8L679.3 1739.2L681.4 1751.4L683.4 1764L685.5 1777.3L687.5 1791L689.6 1805.3L691.6 1820L693.7 1835.1L695.8 1850.5L697.8 1866.3L699.9 1882.4L701.9 1898.7L704 1915.3L706 1932L708.1 1948.8L710.2 1965.7L712.2 1982.7L714.3 1999.6L716.3 2016.5L718.4 2033.3L720.5 2050L722.5 2066.5L724.6 2082.8L726.6 2098.8L728.7 2114.6L730.7 2130L732.8 2145L734.9 2159.6L736.9 2173.8L739 2187.5L741 2200.6L743.1 2213.2L745.1 2225.3L747.2 2236.7L749.3 2247.4L751.3 2257.5L753.4 2266.9L755.4 2275.5L757.5 2283.5L759.5 2290.6L761.6 2297L763.7 2302.6L765.7 2307.3L767.8 2311.3L769.8 2314.4L771.9 2316.6L774 2318.1L776 2318.6L778.1 2318.3L780.1 2317.2L782.2 2315.2L784.2 2312.4L786.3 2308.7L788.4 2304.2L790.4 2298.9L792.5 2292.8L794.5 2285.9L796.6 2278.2L798.6 2269.8L800.7 2260.7L802.8 2250.8L804.8 2240.3L806.9 2229.1L808.9 2217.3L811 2204.8L813 2191.9L815.1 2178.4L817.2 2164.3L819.2 2149.9L821.3 2135L823.3 2119.7L825.4 2104.1L827.5 2088.1L829.5 2071.9L831.6 2055.5L833.6 2038.8L835.7 2022L837.7 2005.2L839.8 1988.2L841.9 1971.3L843.9 1954.3L846 1937.5L848 1920.7L850.1 1904.1L852.1 1887.7L854.2 1871.6L856.3 1855.7L858.3 1840.1L860.4 1824.9L862.4 1810.1L864.5 1795.7L866.5 1781.8L868.6 1768.3L870.7 1755.5L872.7 1743.2L874.8 1731.5L876.8 1720.4L878.9 1710L881 1700.3L883 1691.2L885.1 1683L887.1 1675.4L889.2 1668.7L891.2 1662.7L893.3 1657.6L895.4 1653.2L897.4 1649.7L899.5 1647L901.5 1645.2L903.6 1644.2L905.6 1644.1L907.7 1644.8L909.8 1646.4L911.8 1648.8L913.9 1652.1L915.9 1656.2L918 1661.1L920 1666.8L922.1 1673.3L924.2 1680.6L926.2 1688.7L928.3 1697.5L930.3 1707L932.4 1717.2L934.4 1728.1L936.5 1739.6L938.6 1751.7L940.6 1764.5L942.7 1777.7L944.7 1791.5L946.8 1805.7L948.9 1820.4L950.9 1835.5L953 1851L955 1866.8L957.1 1882.9L959.1 1899.2L961.2 1915.8L963.3 1932.5L965.3 1949.3L967.4 1966.2L969.4 1983.2L971.5 2000.1L973.5 2017L975.6 2033.8L977.7 2050.5L979.7 2067L981.8 2083.3L983.8 2099.3L985.9 2115.1L987.9 2130.5L990 2145.5L992.1 2160.1L994.1 2174.2L996.2 2187.9L998.2 2201L1000.3 2213.6L1002.4 2225.6L1004.4 2237L1006.5 2247.7L1008.5 2257.8L1010.6 2267.2L1012.6 2275.8L1014.7 2283.7L1016.8 2290.8L1018.8 2297.2L1020.9 2302.7L1022.9 2307.5L1025 2311.4L1027 2314.5L1029.1 2316.7L1031.2 2318.1L1033.2 2318.6L1035.3 2318.3L1037.3 2317.1L1039.4 2315.1L1041.4 2312.3L1043.5 2308.6L1045.6 2304.1L1047.6 2298.7L1049.7 2292.6L1051.7 2285.7L1053.8 2278L1055.9 2269.5L1057.9 2260.4L1060 2250.5L1062 2239.9L1064.1 2228.7L1066.1 2216.9L1068.2 2204.4L1070.3 2191.4L1072.3 2177.9L1074.4 2163.9L1076.4 2149.4L1078.5 2134.5L1080.5 2119.2L1082.6 2103.6L1084.7 2087.6L1086.7 2071.4L1088.8 2054.9L1090.8 2038.3L1092.9 2021.5L1094.9 2004.6L1097 1987.7L1099.1 1970.7L1101.1 1953.8L1103.2 1937L1105.2 1920.2L1107.3 1903.6L1109.4 1887.2L1111.4 1871.1L1113.5 1855.2L1115.5 1839.6L1117.6 1824.4L1119.6 1809.6L1121.7 1795.2L1123.8 1781.3L1125.8 1767.9L1127.9 1755.1L1129.9 1742.8L1132 1731.1L1134 1720.1L1136.1 1709.7L1138.2 1700L1140.2 1691L1142.3 1682.7L1144.3 1675.2L1146.4 1668.5L1148.4 1662.5L1150.5 1657.4L1152.6 1653.1L1154.6 1649.6L1156.7 1647L1158.7 1645.2L1160.8 1644.2L1162.8 1644.1L1164.9 1644.9L1167 1646.5L1169 1648.9L1171.1 1652.2L1173.1 1656.3L1175.2 1661.3L1177.3 1667L1179.3 1673.6L1181.4 1680.9L1183.4 1689L1185.5 1697.8L1187.5 1707.3L1189.6 1717.6L1191.7 1728.5L1193.7 1740L1195.8 1752.1L1197.8 1764.9L1199.9 1778.1L1201.9 1791.9L1204 1806.2L1206.1 1820.9L1208.1 1836L1210.2 1851.5L1212.2 1867.3L1214.3 1883.4L1216.3 1899.7L1218.4 1916.3L1220.5 1933L1222.5 1949.8L1224.6 1966.8L1226.6 1983.7L1228.7 2000.7L1230.8 2017.6L1232.8 2034.4L1234.9 2051L1236.9 2067.5L1239 2083.8L1241 2099.8L1243.1 2115.6L1245.2 2130.9L1247.2 2145.9L1249.3 2160.5L1251.3 2174.7L1253.4 2188.3L1255.4 2201.4L1257.5 2214L1259.6 2226L1261.6 2237.3L1263.7 2248.1L1265.7 2258.1L1267.8 2267.4L1269.8 2276.1L1271.9 2283.9L1274 2291L1276 2297.4L1278.1 2302.9L1280.1 2307.6L1282.2 2311.5L1284.3 2314.5L1286.3 2316.7L1288.4 2318.1L1290.4 2318.6L1292.5 2318.3L1294.5 2317.1L1296.6 2315.1L1298.7 2312.2L1300.7 2308.5L1302.8 2303.9L1304.8 2298.5L1306.9 2292.4L1308.9 2285.4L1311 2277.7L1313.1 2269.3L1315.1 2260.1L1317.2 2250.2L1319.2 2239.6L1321.3 2228.3L1323.3 2216.5L1325.4 2204L1327.5 2191L1329.5 2177.5L1331.6 2163.5L1333.6 2149L1335.7 2134L1337.7 2118.7L1339.8 2103.1L1341.9 2087.1L1343.9 2070.9L1346 2054.4L1348 2037.8L1350.1 2021L1352.2 2004.1L1354.2 1987.2" stroke="#6c83a1" stroke-width="14.6"/>
<path d="M738 1497.5H854.9" stroke="#6c83a1" stroke-width="13"/>
<path d="M738 1562.9H854.3" stroke="#9b4b49" stroke-width="13.4"/>
</g>
<g class="thin" font-size="47.8" text-anchor="end">
<text x="180.8" y="2332.1">0</text>
<text x="180.8" y="2194.9">0.5</text>
<text x="180.8" y="2057.8">1.0</text>
<text x="180.8" y="1920.6">1.5</text>
<text x="180.8" y="1783.4">2.0</text>
<text x="180.8" y="1646.3">2.5</text>
<text x="180.8" y="1509.1">3.0</text>
</g>
<g class="thin" font-size="47.8" text-anchor="middle">
<text x="326.3" y="2441.3">0</text>
<text x="585.4" y="2441.3">10</text>
<text x="843" y="2441.3">20</text>
<text x="1090.9" y="2441.3">30</text>
<text x="1360.6" y="2441.3">40</text>
</g>
<text><tspan class="cjk" font-size="46.5" font-weight="600" letter-spacing="4.95" x="875.9" y="1512.4">示波器，</tspan><tspan class="thin1" font-size="47.6" font-style="italic" x="1066.8" y="1509">R</tspan><tspan font-size="25.5" x="1100.8" y="1492.2">2</tspan><tspan class="thin1" font-size="47.6" x="1114.2" y="1509">=</tspan><tspan class="thin1" font-size="47.6" letter-spacing="-0.21" x="1142.4" y="1509">0.999 64</tspan></text>
<text><tspan class="cjk" font-size="46.5" font-weight="600" letter-spacing="1.6" x="878.2" y="1580.35">高速采集系统，</tspan><tspan class="thin1" font-size="47.6" font-style="italic" x="1213.3" y="1575.8">R</tspan><tspan font-size="25.5" x="1247.3" y="1559">2</tspan><tspan class="thin1" font-size="47.6" x="1260.1" y="1575.8">=</tspan><tspan class="thin1" font-size="47.6" letter-spacing="-0.29" x="1288.8" y="1575.8">0.999 79</tspan></text>
<text class="cjk" font-size="47" font-weight="500" transform="translate(78.7 1980.62) rotate(-90) scale(1.007 1)">幅值</text>
<text class="thin1" font-size="66" transform="translate(82.2 1881) rotate(-90) scale(1.022 1)">/</text>
<text class="thin1" font-size="49" transform="translate(75.7 1855.09) rotate(-90) scale(0.894 1)">V</text>
<text class="cjk" font-size="47" font-weight="500" transform="translate(726.11 2520.2) scale(1.048 1)">时间</text>
<text class="thin1" font-size="70" transform="translate(826.6 2525.2) scale(1.063 1)">/</text>
<text class="thin1" font-size="47" transform="translate(848.09 2516.3) scale(1.226 1)">μ</text>
<text class="thin1" font-size="47" transform="translate(877.99 2516.3) scale(1.107 1)">s</text>
<text><tspan font-size="62.4" x="450.6" y="2655.1">（</tspan><tspan font-size="62.4" x="522.3" y="2648.9">b</tspan><tspan font-size="62.4" x="556" y="2655.1">）</tspan><tspan font-size="62.4" letter-spacing="0.63" x="611.4" y="2654">正弦波采集结果</tspan></text>
<text><tspan font-size="60.5" x="277.5" y="2754.3">（</tspan><tspan class="bold" font-size="60.5" x="347.6" y="2748.6">b</tspan><tspan font-size="60.5" x="381.3" y="2754.3">）</tspan><tspan class="bold" font-size="60.5" letter-spacing="-0.44" x="437" y="2748.6">Acquisition </tspan><tspan class="bold" font-size="60.5" letter-spacing="0.18" x="737.5" y="2748.6">results </tspan><tspan class="bold" font-size="60.5" letter-spacing="-2.2" x="919.8" y="2748.6">of </tspan><tspan class="bold" font-size="60.5" letter-spacing="0.67" x="985.9" y="2748.6">sine </tspan><tspan class="bold" font-size="60.5" letter-spacing="-3.83" x="1110.4" y="2748.6">wave</tspan></text>
</svg>
</figure>
</body>
</html>
